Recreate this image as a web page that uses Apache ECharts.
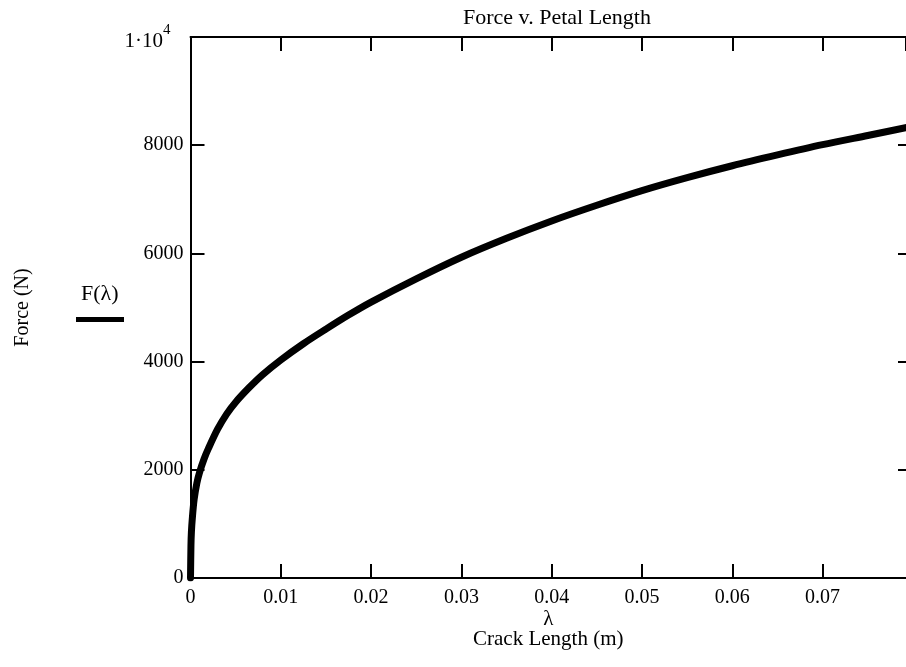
<!DOCTYPE html>
<html>
<head>
<meta charset="utf-8">
<script src="https://cdn.jsdelivr.net/npm/echarts@6/dist/echarts.min.js"></script>
<style>
html,body{margin:0;padding:0;background:#fff;}
#chart{width:906px;height:667px;}
</style>
</head>
<body>
<div id="chart"></div>
<script>
// Crack length lambda (m)
var lambdaVals = [0, 0.00005, 0.0001, 0.0002, 0.0004, 0.0007, 0.001, 0.0015, 0.002, 0.003, 0.004, 0.005, 0.0065, 0.008, 0.01, 0.0125, 0.015, 0.0175, 0.02, 0.025, 0.03, 0.035, 0.04, 0.045, 0.05, 0.055, 0.06, 0.065, 0.07, 0.075, 0.08];
// Force F(lambda) (N)
var forceVals = [0, 600, 850, 1100, 1450, 1750, 1950, 2200, 2400, 2750, 3030, 3250, 3520, 3760, 4030, 4330, 4600, 4860, 5100, 5530, 5930, 6280, 6600, 6890, 7160, 7400, 7620, 7820, 8010, 8180, 8350];
var xTicks = [0, 0.01, 0.02, 0.03, 0.04, 0.05, 0.06, 0.07];
var yTicks = [0, 2000, 4000, 6000, 8000, 10000];

var seriesData = lambdaVals.map(function (x, i) { return [x, forceVals[i]]; });
var serif = 'Liberation Serif';
var chart = echarts.init(document.getElementById('chart'));
var axisLine = { onZero: false, lineStyle: { color: '#000', width: 2 } };
var tick = { inside: true, length: 14, lineStyle: { color: '#000', width: 2 } };
var xMax = 0.07924; // plot is cut at the right edge of the picture

chart.setOption({
  animation: false,
  backgroundColor: '#fff',
  title: {
    text: 'Force v. Petal Length',
    left: 552, top: 2, textAlign: 'center',
    textStyle: { fontFamily: serif, fontSize: 22, fontWeight: 'normal', color: '#000' }
  },
  legend: {
    left: 71, top: 312,
    icon: 'rect', itemWidth: 48, itemHeight: 5,
    formatter: function () { return ''; },
    data: ['F(λ)'],
    selectedMode: false
  },
  graphic: [{
    type: 'text', left: 81, top: 283,
    style: { text: 'F(λ)', font: '22px "Liberation Serif"', fill: '#000' }
  }],
  grid: { left: 190.5, top: 37, right: 0, height: 541, containLabel: false, outerBoundsMode: 'none' },
  xAxis: [{
    type: 'value', min: 0, max: xMax, interval: 0.01, position: 'bottom',
    axisLine: axisLine, axisTick: tick, splitLine: { show: false },
    axisLabel: {
      color: '#000', fontFamily: serif, fontSize: 20, margin: 10,
      showMaxLabel: false,
      formatter: function (v) { var r = +v.toFixed(2); return xTicks.indexOf(r) >= 0 ? String(r) : ''; }
    },
    name: 'λ\nCrack Length (m)', nameLocation: 'middle', nameGap: 31, nameMoveOverlap: false,
    nameTextStyle: { color: '#000', fontFamily: serif, fontSize: 21, lineHeight: 20, verticalAlign: 'top' }
  }, {
    type: 'value', min: 0, max: xMax, interval: 0.01, position: 'top',
    axisLine: axisLine, axisTick: tick, axisLabel: { show: false }, splitLine: { show: false }
  }],
  yAxis: [{
    type: 'value', min: 0, max: 10000, interval: 2000, position: 'left',
    axisLine: axisLine, axisTick: tick, splitLine: { show: false },
    axisLabel: {
      color: '#000', fontFamily: serif, fontSize: 20, margin: 7,
      formatter: function (v) { return v === 10000 ? '{a|1·10}{s|4}' : String(v); },
      rich: {
        a: { fontFamily: serif, fontSize: 21, color: '#000', padding: [8, 0, 0, 0] },
        s: { fontFamily: serif, fontSize: 15, color: '#000', verticalAlign: 'top', padding: [0, 13, 8, 0] }
      }
    },
    name: 'Force (N)', nameLocation: 'middle', nameGap: 158, nameRotate: 90, nameMoveOverlap: false,
    nameTextStyle: { color: '#000', fontFamily: serif, fontSize: 20 }
  }, {
    type: 'value', min: 0, max: 10000, interval: 2000, position: 'right',
    axisLine: { show: false, onZero: false },
    axisTick: { inside: true, length: 8, lineStyle: { color: '#000', width: 2 } },
    axisLabel: { show: false }, splitLine: { show: false }
  }],
  series: [{
    name: 'F(λ)', type: 'line', data: seriesData,
    showSymbol: false, smooth: 0.3,
    lineStyle: { color: '#000', width: 7, join: 'round', cap: 'round' }, itemStyle: { color: '#000' }
  }]
});
</script>
</body>
</html>
